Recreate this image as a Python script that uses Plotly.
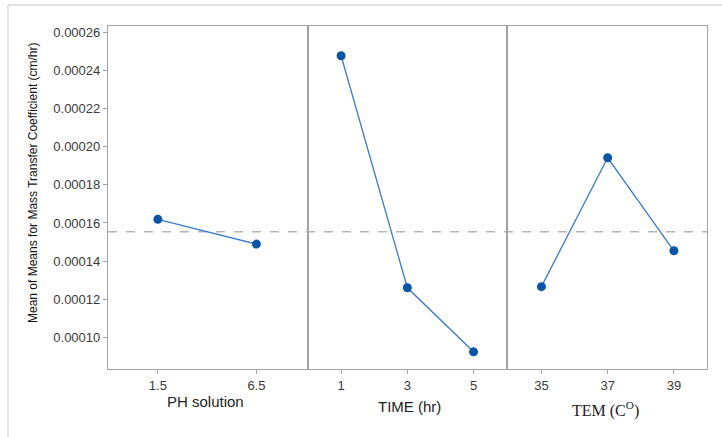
import plotly.graph_objects as go
from plotly.subplots import make_subplots

# ---- data ----
ph_levels = [1.5, 6.5]
ph_means = [0.0001619, 0.0001489]
time_levels = [1, 3, 5]
time_means = [0.0002477, 0.0001260, 0.0000924]
tem_levels = [35, 37, 39]
tem_means = [0.0001266, 0.0001942, 0.0001454]
grand_mean = 0.0001554

panel_titles = ["PH solution", "TIME (hr)", "TEM (C<sup>O</sup>)"]
y_title = "Mean of Means for Mass Transfer Coefficient (cm/hr)"

W, H = 722, 437
L, R, T, B = 108, 15, 26, 68
PW, PH_ = W - L - R, H - T - B


def px_x(x):
    return (x - L) / PW


def px_y(y):
    return (H - B - y) / PH_


fig = make_subplots(rows=1, cols=3, shared_yaxes=True, horizontal_spacing=0)

marker_col = "#0a55a8"
line_col = "#3b7bc9"
for i, (xs, ys) in enumerate([(ph_levels, ph_means), (time_levels, time_means), (tem_levels, tem_means)]):
    fig.add_trace(go.Scatter(x=xs, y=ys, mode="lines+markers",
                             line=dict(color=line_col, width=1.3),
                             marker=dict(color=marker_col, size=9),
                             showlegend=False, hoverinfo="x+y"), row=1, col=i + 1)

axis_col = "#a3a3a3"
tick_font = dict(family="Liberation Sans, Arial, sans-serif", size=13, color="#3a3a3a")
x_ranges = [[-1.03, 9.1], [-0.01, 6.02], [33.97, 40.0]]
x_ticks = [ph_levels, time_levels, tem_levels]
for i in range(3):
    fig.update_xaxes(row=1, col=i + 1, range=x_ranges[i], tickvals=x_ticks[i],
                     ticktext=[str(v) for v in x_ticks[i]],
                     showgrid=False, zeroline=False, showline=True, mirror=True,
                     linecolor=axis_col, linewidth=1.2, ticks="outside", ticklen=4,
                     tickcolor=axis_col, tickfont=tick_font)
    fig.update_yaxes(row=1, col=i + 1, range=[0.0000834, 0.0002633],
                     showgrid=False, zeroline=False, showline=True, mirror=True,
                     linecolor=axis_col, linewidth=1.2)

fig.update_yaxes(row=1, col=1, tick0=0, dtick=0.00002, tickformat=".5f",
                 ticks="outside", ticklen=4, tickcolor=axis_col, tickfont=tick_font)
fig.update_yaxes(row=1, col=2, ticks="", showticklabels=False)
fig.update_yaxes(row=1, col=3, ticks="", showticklabels=False)

# grand mean reference line
fig.add_shape(type="line", xref="paper", yref="y", x0=0, x1=1, y0=grand_mean, y1=grand_mean,
              line=dict(color="#b5b5b5", width=1.6, dash="dash"), layer="below")

# outer light frame
fig.add_shape(type="line", xref="paper", yref="paper", x0=px_x(8), x1=px_x(724),
              y0=px_y(5), y1=px_y(5), line=dict(color="#e3e3e3", width=2))
fig.add_shape(type="line", xref="paper", yref="paper", x0=px_x(8), x1=px_x(8),
              y0=px_y(5), y1=px_y(440), line=dict(color="#e3e3e3", width=2))

# panel titles
title_y = [402, 406.7, 409]
title_fonts = [
    dict(family="Liberation Sans, Arial, sans-serif", size=15, color="#222222"),
    dict(family="Liberation Sans, Arial, sans-serif", size=15, color="#222222"),
    dict(family="Liberation Serif, Times New Roman, serif", size=16, color="#222222"),
]
title_x = [205, 409.5, 605.5]
for i in range(3):
    fig.add_annotation(text=panel_titles[i], xref="paper", yref="paper",
                       x=px_x(title_x[i]), y=px_y(title_y[i]), xanchor="center", yanchor="middle",
                       showarrow=False, font=title_fonts[i])

fig.add_annotation(text=y_title, xref="paper", yref="paper", x=px_x(33), y=px_y(183),
                   xanchor="center", yanchor="middle", textangle=-90, showarrow=False,
                   font=dict(family="Liberation Sans, Arial, sans-serif", size=12, color="#111111"))

fig.update_layout(width=W, height=H, margin=dict(l=L, r=R, t=T, b=B),
                  paper_bgcolor="white", plot_bgcolor="white")

fig.write_html("out.html", config={"displayModeBar": False},
               post_script="document.body.style.margin='0';")
